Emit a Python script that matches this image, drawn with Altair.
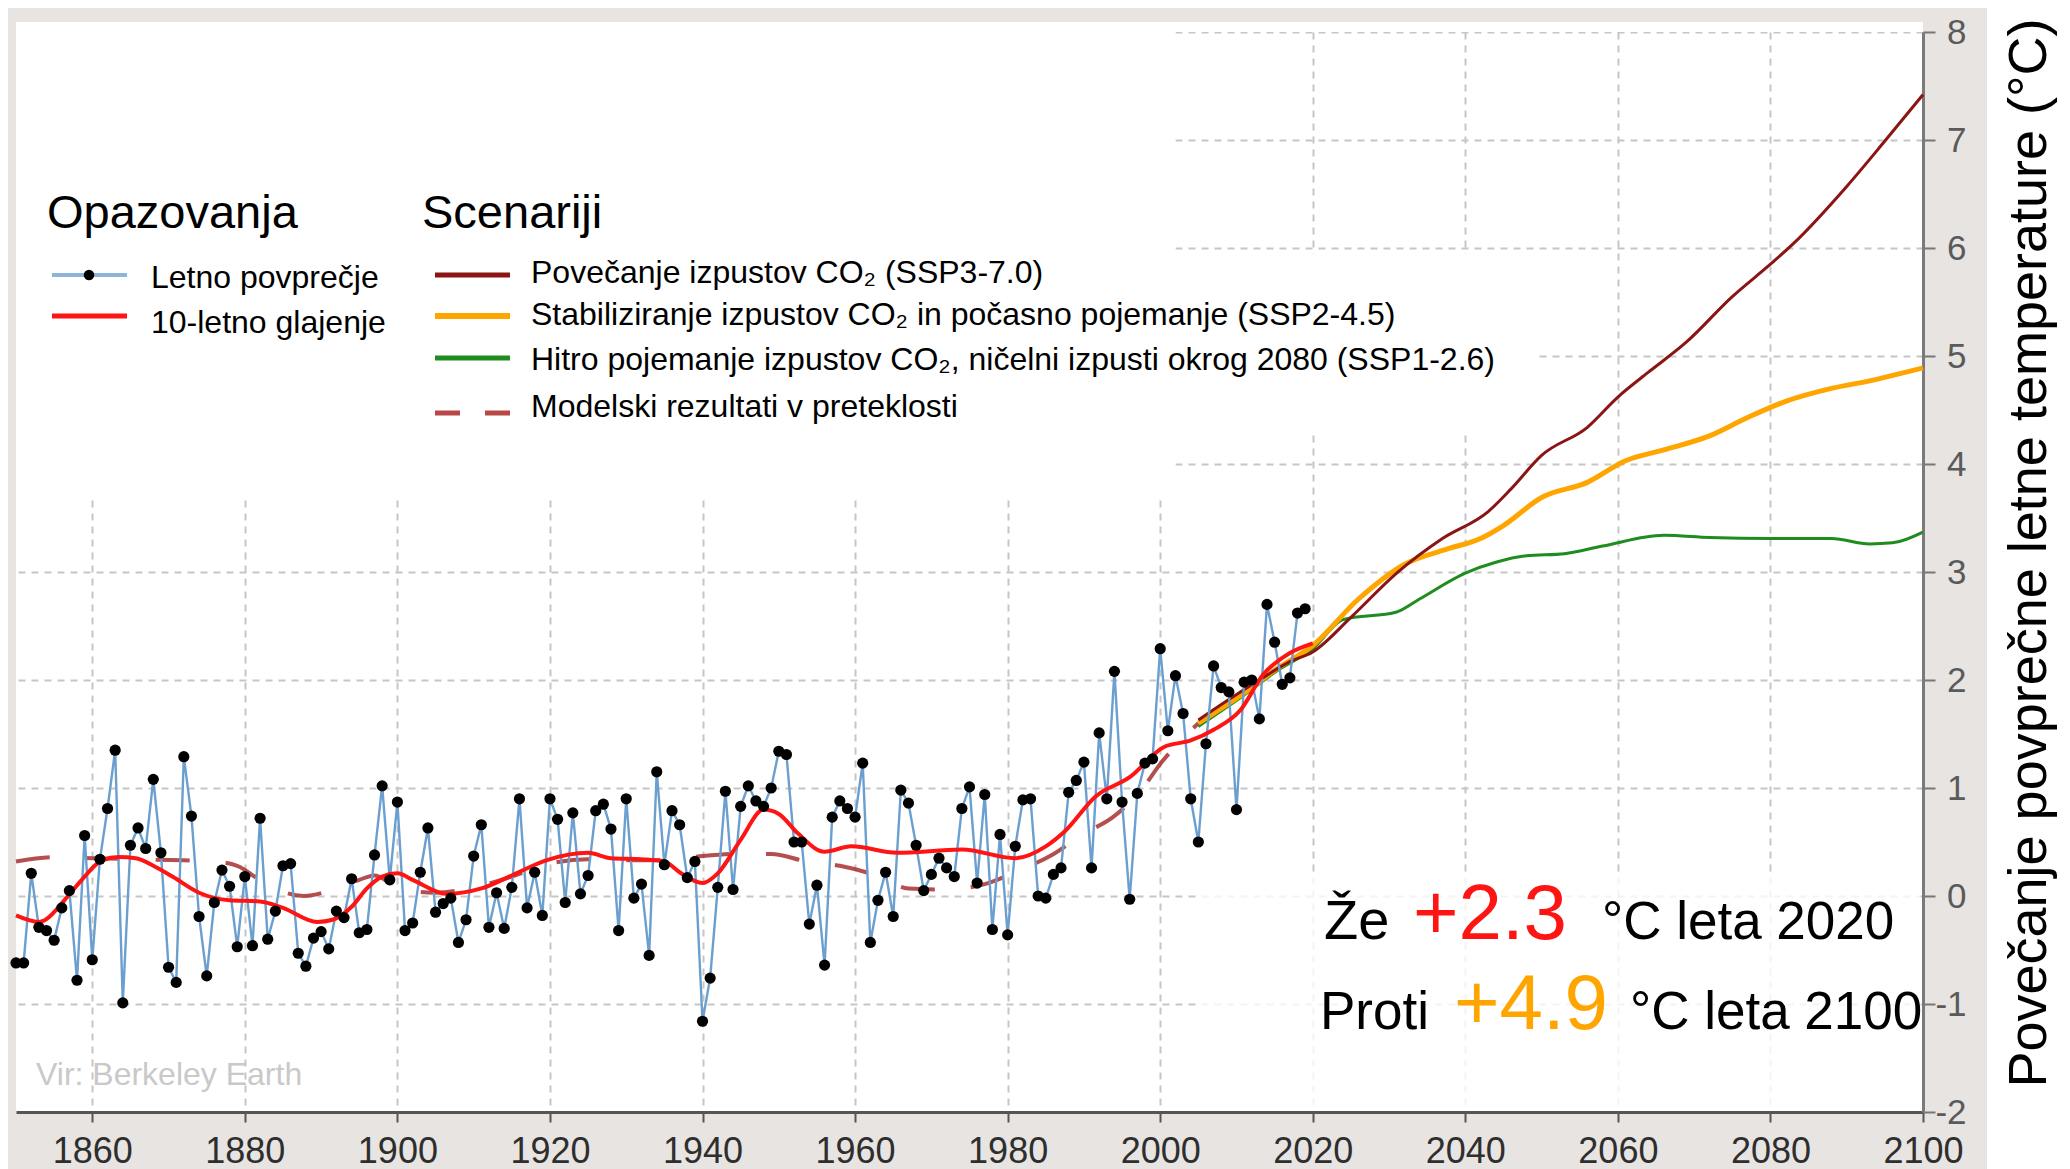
import altair as alt
import pandas as pd

FONT = "Liberation Sans"

# ---------------- data ----------------
obs_years = list(range(1850, 2020))
obs_values = [
    -0.62, -0.62, 0.21, -0.29, -0.32, -0.41, -0.11, 0.05, -0.78, 0.56,
    -0.59, 0.34, 0.81, 1.35, -0.99, 0.47, 0.63, 0.44, 1.08, 0.40,
    -0.66, -0.80, 1.29, 0.74, -0.19, -0.74, -0.06, 0.24, 0.09, -0.47,
    0.18, -0.46, 0.72, -0.40, -0.14, 0.28, 0.30, -0.53, -0.65, -0.39,
    -0.33, -0.49, -0.14, -0.20, 0.16, -0.34, -0.31, 0.38, 1.02, 0.15,
    0.87, -0.32, -0.25, 0.22, 0.63, -0.15, -0.07, -0.02, -0.43, -0.22,
    0.37, 0.66, -0.29, 0.03, -0.30, 0.08, 0.90, -0.11, 0.22, -0.18,
    0.90, 0.71, -0.06, 0.77, 0.02, 0.19, 0.79, 0.85, 0.62, -0.32,
    0.90, -0.02, 0.11, -0.55, 1.15, 0.29, 0.79, 0.66, 0.17, 0.32,
    -1.16, -0.76, 0.08, 0.97, 0.06, 0.83, 1.02, 0.88, 0.83, 1.00,
    1.34, 1.31, 0.50, 0.50, -0.26, 0.10, -0.64, 0.73, 0.88, 0.81,
    0.73, 1.23, -0.43, -0.04, 0.22, -0.19, 0.98, 0.86, 0.47, 0.05,
    0.20, 0.35, 0.26, 0.18, 0.81, 1.01, 0.12, 0.94, -0.31, 0.57,
    -0.36, 0.46, 0.89, 0.90, 0.00, -0.02, 0.20, 0.26, 0.96, 1.07,
    1.24, 0.26, 1.51, 0.90, 2.08, 0.87, -0.03, 0.95, 1.23, 1.27,
    2.29, 1.53, 2.04, 1.69, 0.90, 0.50, 1.41, 2.13, 1.93, 1.89,
    0.80, 1.98, 2.00, 1.64, 2.70, 2.35, 1.96, 2.02, 2.62, 2.66,
]

smooth_years = [1850, 1853, 1856.7, 1858.5, 1861.3, 1863.5, 1865.7, 1868, 1870.5, 1874,
                1878, 1882, 1885, 1889.5, 1891.5, 1894, 1896, 1898, 1900, 1902,
                1906.5, 1911, 1915, 1919.5, 1925, 1928, 1932, 1935, 1937, 1940,
                1942, 1945, 1948, 1950, 1952.5, 1956, 1959.5, 1965.5, 1974, 1981,
                1985, 1987.5, 1991.5, 1996, 2000.5, 2004, 2007, 2010.5, 2013.5, 2017, 2020]
smooth_values = [-0.18, -0.24, -0.01, 0.14, 0.33, 0.36, 0.35, 0.28, 0.18, 0.03,
                 -0.04, -0.05, -0.11, -0.24, -0.22, -0.10, 0.07, 0.18, 0.21, 0.15,
                 0.02, 0.07, 0.19, 0.33, 0.40, 0.35, 0.34, 0.32, 0.22, 0.12,
                 0.21, 0.52, 0.80, 0.76, 0.58, 0.41, 0.46, 0.40, 0.43, 0.35,
                 0.46, 0.60, 0.92, 1.10, 1.38, 1.44, 1.54, 1.72, 2.05, 2.25, 2.34]

model_years = [1850, 1855, 1860, 1866, 1872, 1876, 1879, 1883, 1887.7, 1892,
               1895, 1897, 1899.5, 1901.5, 1905, 1910, 1915, 1920, 1925, 1930,
               1935, 1940, 1945, 1949, 1953.6, 1958, 1962.8, 1967, 1972, 1977,
               1981.6, 1985.8, 1989.8, 1993.8, 1997.5, 2000.2, 2003.7, 2005]
model_values = [0.32, 0.36, 0.35, 0.34, 0.33, 0.32, 0.28, 0.10, 0.00, 0.07,
                0.15, 0.19, 0.10, 0.05, 0.03, 0.08, 0.18, 0.30, 0.34, 0.33,
                0.33, 0.37, 0.39, 0.39, 0.32, 0.28, 0.19, 0.07, 0.06, 0.11,
                0.24, 0.38, 0.57, 0.73, 0.98, 1.24, 1.51, 1.60]

ssp370_years = [2005, 2009, 2013, 2017, 2020, 2025, 2031, 2037, 2043, 2046, 2050,
                2056, 2060, 2064, 2069, 2075, 2080, 2083, 2090, 2095, 2100]
ssp370_values = [1.63, 1.82, 2.00, 2.17, 2.26, 2.58, 2.99, 3.31, 3.56, 3.77, 4.08,
                 4.34, 4.62, 4.85, 5.13, 5.55, 5.85, 6.04, 6.57, 6.99, 7.42]

ssp245_years = [2005, 2011, 2015, 2020, 2026, 2032, 2038, 2042, 2045, 2050, 2056,
                2061, 2066, 2072, 2077, 2082, 2088, 2093, 2100]
ssp245_values = [1.60, 1.88, 2.09, 2.32, 2.75, 3.07, 3.22, 3.31, 3.43, 3.69, 3.83,
                 4.03, 4.13, 4.26, 4.43, 4.58, 4.70, 4.77, 4.89]

ssp126_years = [2005, 2011, 2015, 2020, 2024, 2031, 2034, 2040, 2044, 2048, 2053,
                2058, 2066, 2072, 2080, 2088, 2093, 2096, 2100]
ssp126_values = [1.57, 1.86, 2.07, 2.29, 2.56, 2.63, 2.75, 2.99, 3.09, 3.15, 3.17,
                 3.24, 3.34, 3.32, 3.31, 3.31, 3.26, 3.27, 3.37]

x_ticks = list(range(1860, 2101, 20))
y_ticks = list(range(-2, 9))

legend_headers = ["Opazovanja", "Scenariji"]
obs_labels = ["Letno povprečje", "10-letno glajenje"]
scen_labels = [
    "Povečanje izpustov CO₂ (SSP3-7.0)",
    "Stabiliziranje izpustov CO₂ in počasno pojemanje (SSP2-4.5)",
    "Hitro pojemanje izpustov CO₂, ničelni izpusti okrog 2080 (SSP1-2.6)",
    "Modelski rezultati v preteklosti",
]
y_title = "Povečanje povprečne letne temperature (°C)"
source_label = "Vir: Berkeley Earth"

# ---------------- styles ----------------
C_OBS = "#6a9fd0"
C_SMOOTH = "#ff1414"
C_370 = "#8b1414"
C_245 = "#ffa500"
C_126 = "#1e8c1e"
C_MODEL = "#a83030"
GRID = "#c6c6c6"

XS = alt.Scale(domain=[1850, 2100], nice=False, zero=False)
YS = alt.Scale(domain=[-2, 8], nice=False, zero=False)
XAX = alt.Axis(values=x_ticks, format="d", title=None, labelFontSize=36, labelColor="#2e2e2e",
               labelFont=FONT, labelFlush=False, labelPadding=12, labelOverlap=False,
               tickSize=10, tickColor="#555555", tickWidth=2, domainColor="#555555", domainWidth=3,
               grid=True, gridColor=GRID, gridDash=[7, 6], gridWidth=2)
YAX = alt.Axis(orient="right", values=y_ticks, title=None, labelExpr="toString(datum.value)",
               labelFontSize=35, labelColor="#5a5a5a", labelFont=FONT, labelAlign="right",
               labelPadding=31, tickSize=12, tickColor="#777777", tickWidth=2,
               domainColor="#7a7a7a", domainWidth=3,
               grid=True, gridColor=GRID, gridDash=[7, 6], gridWidth=2)


def X(f="year"):
    return alt.X(f"{f}:Q", scale=XS, axis=XAX)


def Y(f="value"):
    return alt.Y(f"{f}:Q", scale=YS, axis=YAX)


def series(years, values):
    return pd.DataFrame({"year": years, "value": values})


def txt(s, x, y, size, color="black", align="left", baseline="alphabetic", angle=None):
    props = dict(align=align, baseline=baseline, fontSize=size, color=color, font=FONT)
    if angle is not None:
        props["angle"] = angle
    return alt.Chart(pd.DataFrame({"t": [s]})).mark_text(**props).encode(
        x=alt.value(x), y=alt.value(y), text="t:N")


def hrule(x1, x2, y, color, width, dash=None, opacity=1.0):
    props = dict(color=color, strokeWidth=width, opacity=opacity)
    if dash:
        props["strokeDash"] = dash
    return alt.Chart(pd.DataFrame({"a": [0]})).mark_rule(**props).encode(
        x=alt.value(x1), x2=alt.value(x2), y=alt.value(y))


def prect(x1, x2, y1, y2, color):
    return alt.Chart(pd.DataFrame({"a": [0]})).mark_rect(color=color).encode(
        x=alt.value(x1), x2=alt.value(x2), y=alt.value(y1), y2=alt.value(y2))


# white boxes behind the legend and the annotation (they hide the grid)
cover = alt.Chart(pd.DataFrame({"year": [1850, 2002], "year2": [2002, 2049],
                                "value": [3.67, 4.3], "value2": [8, 5.95]})).mark_rect(color="white").encode(
    x=X(), x2="year2:Q", y=Y(), y2="value2:Q")
annot_box = alt.Chart(pd.DataFrame({"year": [2005], "year2": [2099.7],
                                    "value": [-1.97], "value2": [0.2]})).mark_rect(color="white", opacity=0.8).encode(
    x=X(), x2="year2:Q", y=Y(), y2="value2:Q")

model = alt.Chart(series(model_years, model_values)).mark_line(
    color=C_MODEL, strokeWidth=4, strokeDash=[34, 36], opacity=0.85, interpolate="monotone").encode(x=X(), y=Y())

l126 = alt.Chart(series(ssp126_years, ssp126_values)).mark_line(
    color=C_126, strokeWidth=3, interpolate="monotone").encode(x=X(), y=Y())
l245 = alt.Chart(series(ssp245_years, ssp245_values)).mark_line(
    color=C_245, strokeWidth=5, interpolate="monotone").encode(x=X(), y=Y())
l370 = alt.Chart(series(ssp370_years, ssp370_values)).mark_line(
    color=C_370, strokeWidth=3, interpolate="monotone").encode(x=X(), y=Y())

obs_df = series(obs_years, obs_values)
obs_line = alt.Chart(obs_df).mark_line(color=C_OBS, strokeWidth=2.4).encode(x=X(), y=Y())
smooth = alt.Chart(series(smooth_years, smooth_values)).mark_line(
    color=C_SMOOTH, strokeWidth=4, interpolate="monotone").encode(x=X(), y=Y())
obs_pts = alt.Chart(obs_df).mark_circle(color="black", size=125, opacity=1).encode(x=X(), y=Y())

# legend
legend = [
    txt(legend_headers[0], 31, 196, 47),
    txt(legend_headers[1], 406, 196, 47),
    hrule(36, 111, 243, "#8fb4da", 4),
    alt.Chart(pd.DataFrame({"a": [0]})).mark_circle(color="black", size=110, opacity=1).encode(
        x=alt.value(73), y=alt.value(243)),
    txt(obs_labels[0], 135, 256, 32),
    hrule(36, 111, 284, C_SMOOTH, 5),
    txt(obs_labels[1], 135, 301, 32),
    hrule(419, 494, 243, C_370, 5),
    txt(scen_labels[0], 515, 251, 32),
    hrule(419, 494, 284, C_245, 6),
    txt(scen_labels[1], 515, 293, 32),
    hrule(419, 494, 326, C_126, 5),
    txt(scen_labels[2], 515, 338, 32),
    hrule(419, 494, 381, "#b84848", 5, dash=[25, 25]),
    txt(scen_labels[3], 515, 385, 32),
]

annot = [
    txt("Že", 1308, 907, 56),
    txt("+2.3", 1397, 907, 78, color=C_SMOOTH),
    txt("°C leta 2020", 1586, 907, 53),
    txt("Proti", 1304, 997, 53),
    txt("+4.9", 1438, 997, 78, color=C_245),
    txt("°C leta 2100", 1614, 997, 53),
    txt(source_label, 20, 1053, 32, color="#c9c9c9"),
]

frame = [
    prect(0, 1907, -10, 0, "white"),
    prect(1971, 2046, -24, 1137, "white"),
    txt(y_title, 2014, 521, 54, align="center", baseline="middle", angle=270),
]

chart = alt.layer(
    cover, annot_box, model, l126, l245, l370, obs_line, smooth, obs_pts,
    *legend, *annot, *frame
).properties(
    width=1907, height=1080,
    padding={"left": 8, "top": 24, "right": 139, "bottom": 57},
    autosize=alt.AutoSizeParams(type="none"),
    background="#e7e4e1",
).configure(font=FONT).configure_view(fill="white", strokeWidth=0)

chart.save("out.html", embed_options={"renderer": "svg", "actions": False})
